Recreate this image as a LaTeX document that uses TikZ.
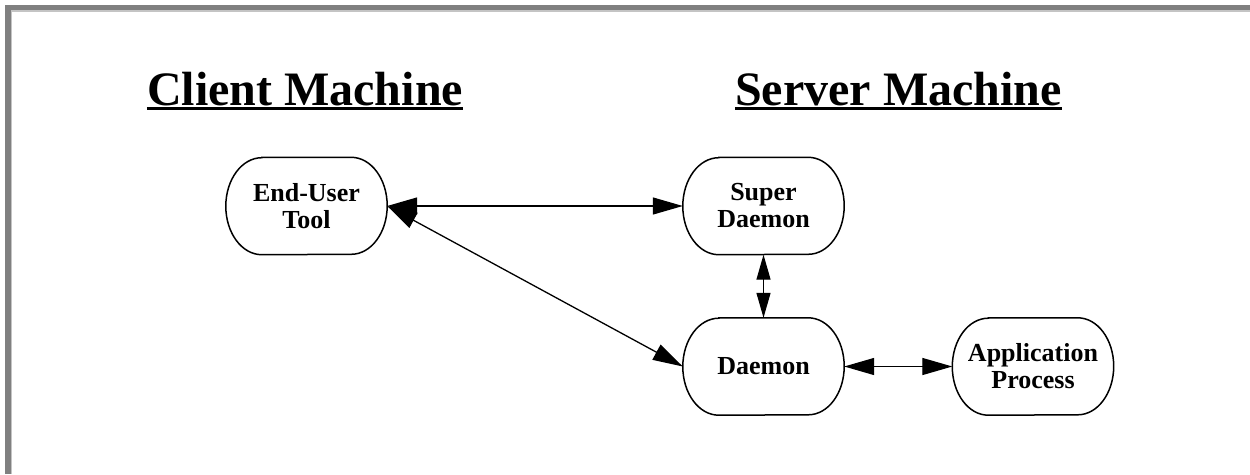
\documentclass[tikz,border=0pt]{standalone}
\usepackage{fontspec}
\setmainfont{Liberation Serif}
\usetikzlibrary{arrows.meta}

\definecolor{framedark}{RGB}{128,128,128}
\definecolor{framelight}{RGB}{196,196,196}

% outline of a process box: straight top and bottom, elliptical ends
\newcommand\stadiumoutline[1]{%
  \draw[line width=1.5pt]
    ([xshift=36pt]#1.north west) -- ([xshift=-36pt]#1.north east)
    arc[start angle=90,end angle=-90,x radius=36pt,y radius=48.5pt]
    -- ([xshift=36pt]#1.south west)
    arc[start angle=270,end angle=90,x radius=36pt,y radius=48.5pt]
    -- cycle;}

\begin{document}
\begin{tikzpicture}[x=1pt,y=-1pt,
  proc/.style={minimum width=161pt, minimum height=97pt, inner sep=0pt,
    align=center, font=\fontsize{26}{27}\selectfont\bfseries},
  title/.style={font=\fontsize{48}{50}\selectfont\bfseries, inner sep=0pt, anchor=base},
  uline/.style={line width=2.5pt},
  link/.style={line width=1.3pt,
    {Triangle[length=30pt,width=17pt]}-{Triangle[length=30pt,width=17pt]}},
  shortlink/.style={line width=1.3pt,
    {Triangle[length=25pt,width=14pt]}-{Triangle[length=25pt,width=14pt]}}]

\useasboundingbox (0,0) rectangle (1250,474);

% page frame
\fill[framedark] (5,5) rectangle (1250,10);
\fill[framedark] (5,5) rectangle (10.5,474);
\fill[framelight] (10.5,10) rectangle (1250,11.5);
\fill[framelight] (10.5,10) rectangle (12,474);

% headings
\node[title] (ct) at (305,105) {Client Machine};
\node[title] (st) at (898.5,105) {Server Machine};
\draw[uline] ([yshift=-3.5pt]ct.base west) -- ([yshift=-3.5pt]ct.base east);
\draw[uline] ([yshift=-3.5pt]st.base west) -- ([yshift=-3.5pt]st.base east);

% processes
\node[proc] (eut) at (306.5,206) {End-User\\Tool};
\node[proc] (sd)  at (763.5,206) {Super\\Daemon};
\node[proc] (dae) at (763.5,366.5) {Daemon};
\node[proc] (app) at (1033,366.5) {Application\\Process};
\stadiumoutline{eut}
\stadiumoutline{sd}
\stadiumoutline{dae}
\stadiumoutline{app}

% connections
\draw[link] (eut.east) -- (sd.west);
\draw[link] (eut.east) -- (dae.west);
\draw[shortlink] (sd.south) -- (dae.north);
\draw[link] (dae.east) -- (app.west);
\end{tikzpicture}
\end{document}
